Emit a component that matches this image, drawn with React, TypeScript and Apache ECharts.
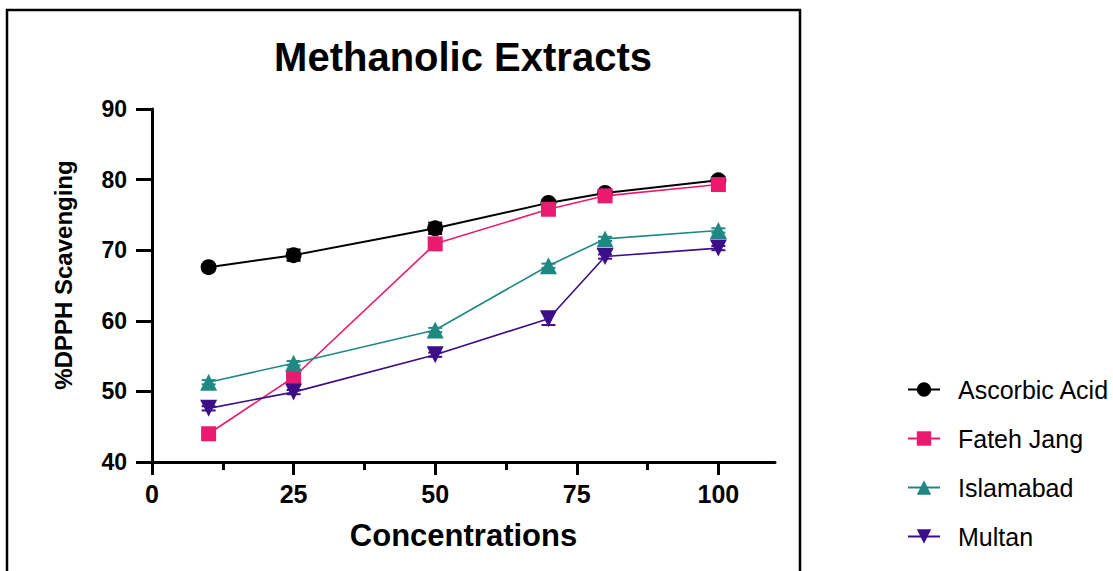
import React, { useEffect, useRef } from "react";
import * as echarts from "echarts";

const titleText = "Methanolic Extracts";
const xName = "Concentrations";
const yName = "%DPPH Scavenging";
const concentrations = [10, 25, 50, 70, 80, 100];
const seriesNames = ["Ascorbic Acid", "Fateh Jang", "Islamabad", "Multan"];
const ascorbic = [67.6, 69.3, 73.1, 76.7, 78.1, 79.9];
const fatehJang = [44.0, 52.0, 70.9, 75.8, 77.7, 79.3];
const islamabad = [51.3, 54.0, 58.7, 67.8, 71.6, 72.8];
const multan = [47.6, 49.9, 55.2, 60.3, 69.1, 70.3];
const ascorbicErr = [0.3, 0.8, 0.8, 0.4, 0.3, 0.3];
const fatehJangErr = [0.3, 0.3, 0.3, 0.3, 0.3, 0.3];
const islamabadErr = [0.3, 0.3, 0.3, 0.3, 0.3, 0.3];
const multanErr = [0.3, 0.3, 0.3, 0.9, 0.3, 0.3];
const xMajorTicks = [0, 25, 50, 75, 100];
const xMinorTicks = [12.5, 37.5, 62.5, 87.5];

const colors = ["#000000", "#EA1A6E", "#1F8883", "#3C0E88"];
const symbols = ["circle", "rect", "triangle", "triangle"];
const symbolRotates = [0, 0, 0, 180];
const symbolSizes = [16, 15, 17, 17];
const values = [ascorbic, fatehJang, islamabad, multan];
const errs = [ascorbicErr, fatehJangErr, islamabadErr, multanErr];

const FONT = "'Liberation Sans', Arial, sans-serif";

export default function App() {
  const ref = useRef<HTMLDivElement>(null);
  useEffect(() => {
    if (!ref.current) return;
    const chart = echarts.init(ref.current, null, { renderer: "svg" });

    const lineSeries = seriesNames.map((name, i) => ({
      name,
      type: "line",
      data: concentrations.map((c, j) => [c, values[i][j]]),
      symbol: symbols[i],
      symbolRotate: symbolRotates[i],
      symbolSize: symbolSizes[i],
      showSymbol: true,
      z: 3 + i,
      color: colors[i],
      lineStyle: { color: colors[i], width: i === 0 ? 2 : 1.6 },
      itemStyle: { color: colors[i] },
      emphasis: { disabled: true },
    }));

    const errSeries = seriesNames.map((name, i) => ({
      name: name + " err",
      type: "custom",
      z: 2,
      silent: true,
      data: concentrations.map((c, j) => [c, values[i][j], errs[i][j]]),
      renderItem: (params: any, api: any) => {
        const x = api.value(0);
        const y = api.value(1);
        const e = api.value(2);
        const top = api.coord([x, y + e]);
        const bot = api.coord([x, y - e]);
        const hw = 7;
        const style = { stroke: colors[i], lineWidth: 2 };
        return {
          type: "group",
          children: [
            { type: "line", shape: { x1: top[0], y1: top[1], x2: bot[0], y2: bot[1] }, style },
            { type: "line", shape: { x1: top[0] - hw, y1: top[1], x2: top[0] + hw, y2: top[1] }, style },
            { type: "line", shape: { x1: bot[0] - hw, y1: bot[1], x2: bot[0] + hw, y2: bot[1] }, style },
          ],
        };
      },
    }));

    const option: any = {
      animation: false,
      backgroundColor: "#ffffff",
      textStyle: { fontFamily: FONT },
      grid: { left: 152, right: 338, top: 109, bottom: 109, containLabel: false },
      graphic: [
        {
          type: "rect",
          shape: { x: 7, y: 10, width: 793, height: 600 },
          style: { fill: "none", stroke: "#000", lineWidth: 2.5 },
          z: 0,
        },
        {
          type: "text",
          x: 463,
          y: 57,
          style: {
            text: titleText,
            fontFamily: FONT,
            fontWeight: "bold",
            fontSize: 40,
            fill: "#000",
            textAlign: "center",
            textVerticalAlign: "middle",
          },
        },
        {
          type: "text",
          x: 63,
          y: 275,
          rotation: Math.PI / 2,
          style: {
            text: yName,
            fontFamily: FONT,
            fontWeight: "bold",
            fontSize: 24,
            fill: "#000",
            textAlign: "center",
            textVerticalAlign: "middle",
          },
        },
      ],
      legend: {
        data: seriesNames,
        orient: "vertical",
        left: 907,
        top: 377,
        padding: 0,
        itemGap: 24,
        itemWidth: 32,
        itemHeight: 18,
        textStyle: { fontFamily: FONT, fontSize: 25, color: "#000", padding: [0, 0, 0, 13] },
      },
      xAxis: [
        {
          type: "value",
          min: 0,
          max: 110,
          interval: 25,
          position: "bottom",
          name: xName,
          nameLocation: "middle",
          nameGap: 58,
          nameTextStyle: { fontFamily: FONT, fontWeight: "bold", fontSize: 31, color: "#000" },
          axisLine: { onZero: false, lineStyle: { color: "#000", width: 3 } },
          axisTick: { show: true, length: 13, lineStyle: { color: "#000", width: 3 }, customValues: xMajorTicks },
          axisLabel: {
            customValues: xMajorTicks,
            margin: 19,
            fontFamily: FONT,
            fontWeight: "bold",
            fontSize: 25,
            color: "#000",
          },
          splitLine: { show: false },
        },
        {
          type: "value",
          min: 0,
          max: 110,
          interval: 25,
          position: "bottom",
          axisLine: { show: false, onZero: false },
          axisTick: { show: true, length: 8, lineStyle: { color: "#000", width: 3 }, customValues: xMinorTicks },
          axisLabel: { show: false },
          splitLine: { show: false },
        },
      ],
      yAxis: {
        type: "value",
        min: 40,
        max: 90,
        interval: 10,
        axisLine: { show: true, onZero: false, lineStyle: { color: "#000", width: 3 } },
        axisTick: { show: true, length: 16, lineStyle: { color: "#000", width: 3 } },
        axisLabel: { margin: 25, fontFamily: FONT, fontWeight: "bold", fontSize: 23, color: "#000" },
        splitLine: { show: false },
      },
      series: [...errSeries, ...lineSeries],
    };
    chart.setOption(option);
    return () => chart.dispose();
  }, []);
  return (
    <div
      ref={ref}
      style={{ position: "fixed", left: 0, top: 0, width: 1113, height: 571, background: "#fff" }}
    />
  );
}
